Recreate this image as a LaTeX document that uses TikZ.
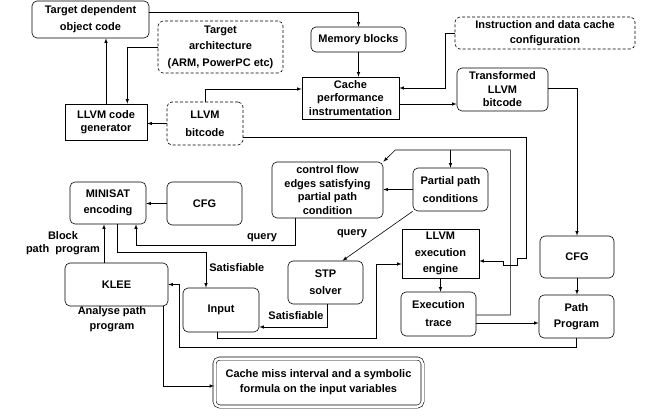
\documentclass[tikz,border=0pt]{standalone}
\usepackage{fontspec}
\setmainfont{Liberation Sans}
\begin{document}
\begin{tikzpicture}[>=latex,x=1pt,y=-1pt,line width=0.6pt,
    font=\fontsize{11}{13.5}\selectfont\bfseries,
    rbox/.style={draw,rounded corners=5pt,align=center,inner sep=2pt},
    dbox/.style={rbox,dash pattern=on 3pt off 2pt},
    sbox/.style={draw,align=center,inner sep=2pt},
    lbl/.style={align=center,inner sep=1pt}]
    \useasboundingbox (0,0) rectangle (654,417);
    % boxes
    \node[rbox,minimum width=117pt,minimum height=37pt] (tdoc) at (90.5,19.5) {Target dependent\\[3.5pt]object code};
    \node[dbox,minimum width=125pt,minimum height=52pt] (tarch) at (220.5,47) {Target\\[3pt]architecture\\[3pt](ARM, PowerPC etc)};
    \node[rbox,minimum width=95pt,minimum height=25pt] (memblk) at (358.5,39.5) {Memory blocks};
    \node[dbox,minimum width=180pt,minimum height=32pt] (cachecfg) at (545,33) {Instruction and data cache\\[1pt]configuration};
    \node[sbox,minimum width=97pt,minimum height=42pt] (instr) at (350.5,98) {Cache\\performance\\instrumentation};
    \node[rbox,minimum width=91pt,minimum height=43pt] (tbit) at (502.5,89.5) {Transformed\\LLVM\\bitcode};
    \node[sbox,minimum width=82pt,minimum height=36pt] (codegen) at (106,122) {LLVM code\\generator};
    \node[dbox,minimum width=76pt,minimum height=43pt] (bitcode) at (205,123.5) {LLVM\\[4.5pt]bitcode};
    \node[rbox,minimum width=76pt,minimum height=42pt] (minisat) at (108,203) {MINISAT\\[2.5pt]encoding};
    \node[rbox,minimum width=75pt,minimum height=43pt] (cfgl) at (204.5,203.5) {CFG};
    \node[rbox,minimum width=111pt,minimum height=56pt] (cfedges) at (327.5,190) {control flow\\edges satisfying\\partial path\\condition};
    \node[rbox,minimum width=75pt,minimum height=43pt] (ppc) at (450.5,189.5) {Partial path\\[4.5pt]conditions};
    \node[sbox,minimum width=77pt,minimum height=49pt] (engine) at (440.5,253.5) {LLVM\\[3pt]execution\\[3pt]engine};
    \node[rbox,minimum width=74pt,minimum height=42pt] (cfgr) at (577,257) {CFG};
    \node[rbox,minimum width=75pt,minimum height=43pt] (stp) at (325.5,282.5) {STP\\[3.5pt]solver};
    \node[rbox,minimum width=103pt,minimum height=43pt] (klee) at (116.5,284.5) {KLEE};
    \node[rbox,minimum width=76pt,minimum height=44pt] (input) at (221,310) {Input};
    \node[rbox,minimum width=75pt,minimum height=44pt] (trace) at (438.5,314) {Execution\\[4.5pt]trace};
    \node[rbox,minimum width=75pt,minimum height=43pt] (pathprog) at (576.5,316.5) {Path\\[2.5pt]Program};
    \node[rbox,double,double distance=2.5pt,minimum width=208pt,minimum height=48pt] (result) at (318.5,382.5) {Cache miss interval and a symbolic\\[1.5pt]formula on the input variables};
    % labels
    \node[lbl] (blk) at (63,243) {Block\\path~~program};
    \node[lbl] (ana) at (112,319) {Analyse path\\[1.5pt]program};
    \node[lbl] (q1) at (262,238) {query};
    \node[lbl] (q2) at (352,234) {query};
    \node[lbl,anchor=west] (sat1) at (208,268) {Satisfiable};
    \node[lbl] (sat2) at (296,316) {Satisfiable};
    % connectors
    \draw[->] ([yshift=7pt]tdoc.east) -| (memblk.north);
    \draw[->] (codegen.north) -- (codegen.north |- tdoc.south);
    \draw[->] (tarch.west) -| ([xshift=-20pt]codegen.north east);
    \draw[->] (bitcode.west) -- (bitcode.west -| codegen.east);
    \draw[->] (bitcode.north) |- ([yshift=9pt]instr.west);
    \draw[->] (memblk.south) -- (memblk.south |- instr.north);
    \draw[->] (cachecfg.west) -- ++(-9,0) |- ([yshift=10pt]instr.east);
    \coordinate (h1) at ([yshift=-6pt]instr.east);
    \draw[->] (h1) -- (h1 -| tbit.west);
    \draw[->] ([yshift=1.5pt]tbit.east) -| (cfgr.north);
    \draw[->] ([yshift=-13.5pt]bitcode.east) -- ++(283,0) -- ++(0,121) -- ++(-9,0)
        -- ++(0,7) -- ++(-14,0) -- ++(0,-4) -- ([yshift=-7.5pt]engine.east);
    \draw[->] (ppc.west) -- (ppc.west -| cfedges.east);
    \draw[->] (ppc.south west) -- ([xshift=17pt]stp.north);
    \draw[->] ([xshift=-32.5pt]cfedges.south) -- ++(0,27) -| ([xshift=28pt]minisat.south);
    \draw[->] (cfgl.west) -- (cfgl.west -| minisat.east);
    \coordinate (k1) at ([xshift=-12.5pt]klee.north);
    \draw[->] (k1) -- (k1 |- minisat.south);
    \draw[->] ([xshift=9pt]minisat.south) -- ++(0,28) -| ([xshift=-15pt]input.north);
    \draw[->] ([xshift=1.5pt]stp.south) |- ([yshift=-17pt]input.east);
    \draw[->] ([xshift=-4pt]input.south) -- ++(0,6) -| ([xshift=-25pt,yshift=-10.5pt]engine.west)
        -- ([yshift=-10.5pt]engine.west);
    \draw[->] (engine.south) -- (engine.south |- trace.north);
    \coordinate (t1) at ([yshift=-9pt]trace.east);
    \draw[->] (t1) -- (t1 -| pathprog.west);
    \draw[->] ([yshift=-1pt]trace.east) -- ++(34,0) -- ++(0,-165) coordinate (ur)
        -- ++(-115,0) -- (cfedges.north east);
    \draw[->] (ppc.north |- ur) -- (ppc.north);
    \draw[->] (cfgr.south) -- (cfgr.south |- pathprog.north);
    \draw[->] (pathprog.south) -- ++(0,9) -| ([xshift=11pt]klee.east) -- (klee.east);
    \draw[->] ([xshift=46.5pt]klee.south) |- ([yshift=-3.5pt]result.west);
\end{tikzpicture}
\end{document}
